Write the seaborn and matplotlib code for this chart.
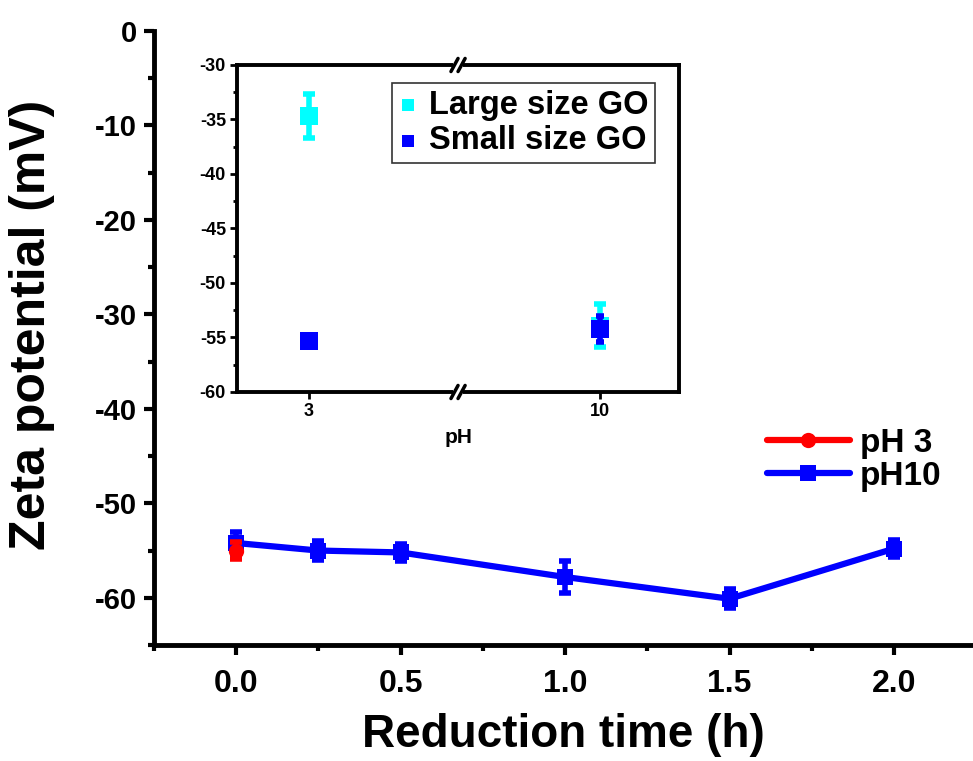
import numpy as np
import pandas as pd
import matplotlib
matplotlib.use("Agg")
import matplotlib.pyplot as plt
from matplotlib.ticker import MultipleLocator, FixedLocator
from matplotlib.patches import Rectangle
import seaborn as sns

# ---------------- data ----------------
time_h = [0.0, 0.25, 0.5, 1.0, 1.5, 2.0]
ph10_zeta = [-54.2, -55.0, -55.2, -57.8, -60.1, -54.8]
ph10_err = [1.2, 1.0, 0.9, 1.7, 1.0, 0.9]

ph3_time = [0.0]
ph3_zeta = [-55.0]
ph3_err = [0.9]

inset_ph_labels = ["3", "10"]
large_go = [-34.7, -53.9]
large_go_err = [2.0, 2.0]
small_go = [-55.3, -54.2]
small_go_err = [0.5, 1.2]

# ---------------- style ----------------
sns.set_theme(style="ticks")
plt.rcParams["font.family"] = ["Liberation Sans", "DejaVu Sans"]
plt.rcParams["font.weight"] = "bold"
plt.rcParams["axes.labelweight"] = "bold"
plt.rcParams["axes.unicode_minus"] = False
for k in ["text.color", "axes.labelcolor", "xtick.color", "ytick.color",
          "axes.edgecolor"]:
    plt.rcParams[k] = "black"

RED = "#ff0000"
BLUE = "#0000ff"
CYAN = "#00ffff"

fig = plt.figure(figsize=(9.73, 7.61), dpi=100)
ax = fig.add_axes([0.158, 0.1524, 0.842, 0.807])

df10 = pd.DataFrame({"t": time_h, "z": ph10_zeta})
df3 = pd.DataFrame({"t": ph3_time, "z": ph3_zeta})

sns.lineplot(data=df10, x="t", y="z", ax=ax, color=BLUE, lw=4.5,
             marker="s", markersize=11, markeredgewidth=0, label="pH10", zorder=3)
ax.errorbar(time_h, ph10_zeta, yerr=ph10_err, fmt="none", ecolor=BLUE,
            elinewidth=4, capsize=4.5, capthick=4, zorder=3)
sns.lineplot(data=df3, x="t", y="z", ax=ax, color=RED, lw=4.5,
             marker="o", markersize=11, markeredgewidth=0, label="pH 3", zorder=4)
ax.errorbar(ph3_time, ph3_zeta, yerr=ph3_err, fmt="none", ecolor=RED,
            elinewidth=4, capsize=4.5, capthick=4, zorder=4)

ax.set_xlim(-0.25, 2.24)
ax.set_ylim(-65, 0)
ax.xaxis.set_major_locator(FixedLocator([0.0, 0.5, 1.0, 1.5, 2.0]))
ax.xaxis.set_minor_locator(FixedLocator([-0.25, 0.25, 0.75, 1.25, 1.75]))
ax.yaxis.set_major_locator(MultipleLocator(10))
ax.yaxis.set_minor_locator(FixedLocator([-5, -15, -25, -35, -45, -55, -65]))
ax.set_xticklabels(["0.0", "0.5", "1.0", "1.5", "2.0"])
for s in ["top", "right"]:
    ax.spines[s].set_visible(False)
for s in ["left", "bottom"]:
    ax.spines[s].set_linewidth(3.5)
    ax.spines[s].set_color("black")
ax.tick_params(axis="both", which="major", direction="out", length=7, width=3,
               color="black")
ax.tick_params(axis="x", which="major", labelsize=23, pad=10)
ax.tick_params(axis="y", which="major", labelsize=21, pad=5)
ax.tick_params(axis="both", which="minor", direction="out", length=4, width=3,
               color="black")
for lab in ax.get_xticklabels() + ax.get_yticklabels():
    lab.set_fontweight("bold")
ax.set_xlabel("Reduction time (h)", fontsize=33, fontweight="bold", labelpad=10)
ax.set_ylabel("Zeta potential (mV)", fontsize=36, fontweight="bold")
ax.yaxis.set_label_coords(-0.121, 0.522)

# legend order: pH 3 then pH10
h, l = ax.get_legend_handles_labels()
order = [l.index("pH 3"), l.index("pH10")]
leg = ax.legend([h[i] for i in order], [l[i] for i in order],
                loc="upper left", bbox_to_anchor=(0.757, 0.477),
                bbox_transform=fig.transFigure, frameon=False,
                prop={"size": 24, "weight": "bold"}, handlelength=2.5,
                handletextpad=0.3, labelspacing=0.05)

# ---------------- inset ----------------
ins = fig.add_axes([0.2436, 0.4849, 0.4543, 0.4297])
pos = [0, 1]
dfl = pd.DataFrame({"p": pos, "z": large_go})
dfs = pd.DataFrame({"p": pos, "z": small_go})
ins.errorbar(pos, large_go, yerr=large_go_err, fmt="none", ecolor=CYAN,
             elinewidth=4, capsize=4, capthick=4, zorder=2)
sns.scatterplot(data=dfl, x="p", y="z", ax=ins, color=CYAN, marker="s", s=150,
                linewidth=0, label="Large size GO", zorder=3)
ins.errorbar(pos, small_go, yerr=small_go_err, fmt="none", ecolor=BLUE,
             elinewidth=4, capsize=3, capthick=4, zorder=4)
sns.scatterplot(data=dfs, x="p", y="z", ax=ins, color=BLUE, marker="s", s=150,
                linewidth=0, label="Small size GO", zorder=5)

ins.set_xlim(-0.247, 1.271)
ins.set_ylim(-60, -30)
ins.xaxis.set_major_locator(FixedLocator(pos))
ins.set_xticklabels(inset_ph_labels)
ins.yaxis.set_major_locator(MultipleLocator(5))
ins.yaxis.set_minor_locator(MultipleLocator(2.5))
for s in ins.spines.values():
    s.set_linewidth(2.8)
    s.set_color("black")
ins.tick_params(axis="both", which="major", direction="out", length=5, width=2,
                labelsize=13, color="black", pad=3)
ins.tick_params(axis="y", which="minor", direction="out", length=3, width=2,
                color="black")
for lab in ins.get_xticklabels() + ins.get_yticklabels():
    lab.set_fontweight("bold")
ins.set_xlabel("pH", fontsize=15, fontweight="bold", labelpad=6)
ins.set_ylabel("")

# axis break marks
xb = 0.5
for yb in (0.0, 1.0):
    ins.add_patch(Rectangle((xb - 0.012, yb - 0.012), 0.024, 0.024,
                            transform=ins.transAxes, facecolor="white",
                            edgecolor="none", clip_on=False, zorder=10))
    for dx in (-0.008, 0.008):
        ins.plot([xb + dx - 0.008, xb + dx + 0.008], [yb - 0.02, yb + 0.02],
                 transform=ins.transAxes, color="black", lw=2.5,
                 clip_on=False, zorder=11)

ileg = ins.legend(loc="upper right", bbox_to_anchor=(0.946, 0.945),
                  borderaxespad=0, frameon=True, fancybox=False,
                  prop={"size": 23.5, "weight": "bold"}, handlelength=0.6,
                  handletextpad=0.35, labelspacing=0.15, borderpad=0.2,
                  markerscale=0.7)
ileg.get_frame().set_edgecolor("black")
ileg.get_frame().set_linewidth(1.2)

fig.savefig("out.png", dpi=100)
